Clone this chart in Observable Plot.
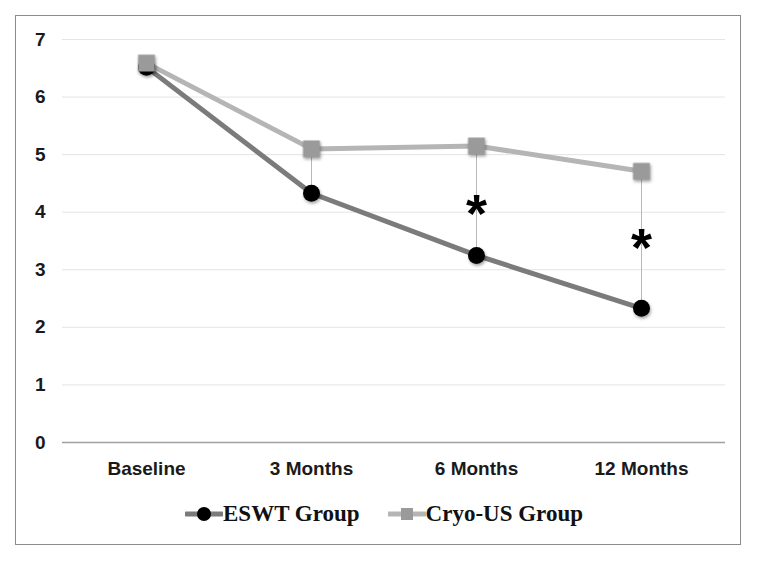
<!DOCTYPE html>
<html><head><meta charset="utf-8">
<script src="https://cdn.jsdelivr.net/npm/d3@7"></script>
<script src="https://cdn.jsdelivr.net/npm/@observablehq/plot@0.6"></script>
<style>
body{margin:0;background:#fff;width:758px;height:562px;position:relative;overflow:hidden}
#frame{position:absolute;left:15px;top:15px;width:724px;height:528px;border:1.5px solid #8c8c8c}
#chart{position:absolute;left:0;top:0}
#legend{position:absolute;left:5px;top:501px;width:758px;display:flex;justify-content:center;gap:28px;font-family:"Liberation Serif",serif;font-weight:bold;font-size:23px;color:#111}
#legend .item{display:flex;align-items:center}
g[aria-label="dot"]{filter:drop-shadow(1px 2px 1.5px rgba(0,0,0,0.35))}
</style></head>
<body>
<div id="frame"></div>
<div id="chart"></div>
<div id="legend"></div>
<script>
const categories = ["Baseline", "3 Months", "6 Months", "12 Months"];
const eswt = [6.52, 4.33, 3.25, 2.33];
const cryo = [6.59, 5.10, 5.15, 4.71];
const seriesNames = ["ESWT Group", "Cryo-US Group"];
const starCategories = ["6 Months", "12 Months"];
const starValues = [4.1, 3.5];
const yTicks = [0, 1, 2, 3, 4, 5, 6, 7];

const eswtData = categories.map((c, i) => ({cat: c, v: eswt[i]}));
const cryoData = categories.map((c, i) => ({cat: c, v: cryo[i]}));
const pairs = categories.map((c, i) => ({cat: c, a: cryo[i], b: eswt[i]}));
const stars = starCategories.map((c, i) => ({cat: c, v: starValues[i]}));

const font = "'Liberation Sans', Arial, sans-serif";
const plot = Plot.plot({
  width: 758, height: 480,
  marginLeft: 62, marginRight: 33, marginTop: 39, marginBottom: 38,
  style: {fontFamily: font, fontWeight: "bold", color: "#1a1a1a", background: "transparent"},
  x: {type: "point", domain: categories, padding: 0.5, label: null},
  y: {domain: [0, 7], label: null},
  marks: [
    Plot.gridY(yTicks.filter(t => t > 0), {stroke: "#e4e4e4", strokeOpacity: 1, strokeWidth: 1}),
    Plot.ruleY([0], {stroke: "#a0a0a0", strokeWidth: 1.5}),
    Plot.axisX({tickSize: 0, tickPadding: 19, fontSize: 19, fontWeight: "bold", fill: "#1a1a1a", label: null}),
    Plot.axisY(yTicks, {tickSize: 0, tickPadding: 17, fontSize: 19, fontWeight: "bold", fill: "#1a1a1a", label: null, tickFormat: d3.format("d")}),
    Plot.link(pairs, {x1: "cat", x2: "cat", y1: "a", y2: "b", stroke: "#b8b8b8", strokeWidth: 1}),
    Plot.line(cryoData, {x: "cat", y: "v", stroke: "#b5b5b5", strokeWidth: 5}),
    Plot.line(eswtData, {x: "cat", y: "v", stroke: "#7b7b7b", strokeWidth: 5}),
    Plot.dot(eswtData, {x: "cat", y: "v", r: 8.5, fill: "#000", stroke: "none"}),
    Plot.dot(cryoData, {x: "cat", y: "v", r: 9.5, symbol: "square", fill: "#9a9a9a", stroke: "none"}),
    Plot.text(stars, {x: "cat", y: "v", text: () => "*", fontSize: 54, fontWeight: "bold", fill: "#000", dy: 8, fontFamily: font})
  ]
});
document.getElementById("chart").appendChild(plot);

const legend = document.getElementById("legend");
const swatches = [
  `<svg width="38" height="20"><line x1="1" y1="10" x2="37" y2="10" stroke="#7b7b7b" stroke-width="5" stroke-linecap="round"/><circle cx="19" cy="10" r="7" fill="#000"/></svg>`,
  `<svg width="38" height="20"><line x1="1" y1="10" x2="37" y2="10" stroke="#b5b5b5" stroke-width="5" stroke-linecap="round"/><rect x="13" y="4" width="12" height="12" fill="#9a9a9a"/></svg>`
];
seriesNames.forEach((n, i) => {
  const d = document.createElement("div");
  d.className = "item";
  d.innerHTML = swatches[i] + `<span>${n}</span>`;
  legend.appendChild(d);
});
</script>
</body></html>
